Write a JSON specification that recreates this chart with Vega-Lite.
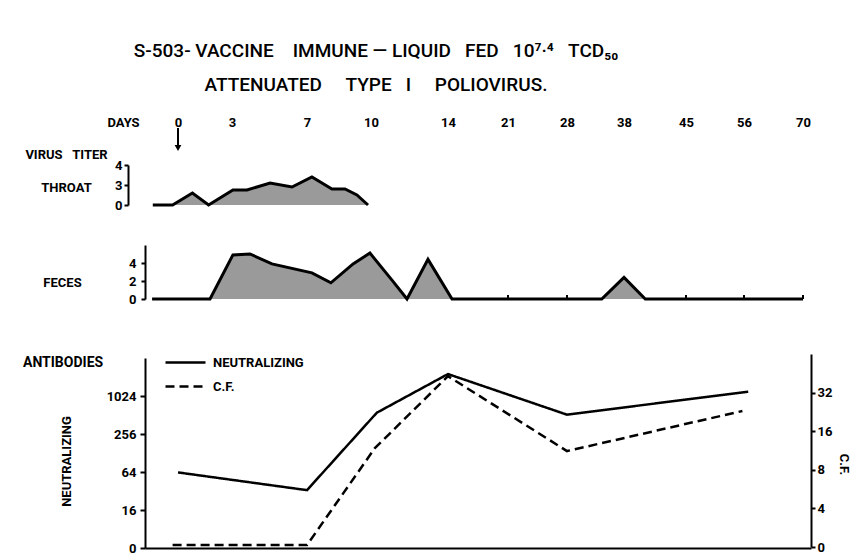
{
  "$schema": "https://vega.github.io/schema/vega-lite/v6.json",
  "width": 666,
  "height": 548,
  "autosize": {"type": "none"},
  "padding": {"left": 145, "right": 41, "top": 0, "bottom": 6},
  "background": "white",
  "config": {
    "view": {"stroke": null},
    "font": "Roboto",
    "axis": {
      "grid": false,
      "domainColor": "black",
      "domainWidth": 2,
      "tickColor": "black",
      "tickWidth": 2,
      "tickSize": 5,
      "labelFont": "Roboto",
      "labelFontWeight": "bold",
      "labelFontSize": 13,
      "labelColor": "black",
      "titleFont": "Roboto",
      "titleFontWeight": "bold",
      "titleFontSize": 13,
      "titleColor": "black",
      "labelPadding": 3
    }
  },
  "title": {
    "text": [
      "S-503-\u00a0VACCINE\u00a0\u00a0\u00a0\u00a0IMMUNE\u00a0\u2014\u00a0LIQUID\u00a0\u00a0\u00a0FED\u00a0\u00a0\u00a010\u2077\u00b7\u2074\u00a0\u00a0\u00a0TCD\u2085\u2080",
      "\u00a0\u00a0\u00a0\u00a0\u00a0\u00a0\u00a0ATTENUATED\u00a0\u00a0\u00a0\u00a0\u00a0TYPE\u00a0\u00a0\u00a0I\u00a0\u00a0\u00a0\u00a0\u00a0POLIOVIRUS."
    ],
    "anchor": "middle",
    "frame": "group",
    "dx": -102,
    "dy": 95,
    "offset": 0,
    "font": "Roboto",
    "fontSize": 19,
    "fontWeight": 500,
    "color": "black",
    "lineHeight": 34
  },
  "datasets": {
    "throat": [
      {"day": -1.4, "titer": 0},
      {"day": -0.3, "titer": 0},
      {"day": 0.8, "titer": 1.8},
      {"day": 1.7, "titer": 0},
      {"day": 3.05, "titer": 2.25},
      {"day": 3.8, "titer": 2.25},
      {"day": 5.03, "titer": 3.1},
      {"day": 6.2, "titer": 2.7},
      {"day": 7.23, "titer": 3.4},
      {"day": 8.17, "titer": 2.4},
      {"day": 8.78, "titer": 2.4},
      {"day": 9.34, "titer": 1.5},
      {"day": 9.86, "titer": 0}
    ],
    "feces": [
      {"day": -1.44, "titer": 0},
      {"day": 1.78, "titer": 0},
      {"day": 3.05, "titer": 4.9},
      {"day": 3.96, "titer": 5.0},
      {"day": 5.13, "titer": 3.9},
      {"day": 7.23, "titer": 2.9},
      {"day": 8.12, "titer": 1.8},
      {"day": 9.16, "titer": 3.9},
      {"day": 9.95, "titer": 5.1},
      {"day": 11.09, "titer": 2.1},
      {"day": 11.87, "titer": 0},
      {"day": 12.96, "titer": 4.4},
      {"day": 14.47, "titer": 0},
      {"day": 34.1, "titer": 0},
      {"day": 38, "titer": 2.4},
      {"day": 40.4, "titer": 0},
      {"day": 70, "titer": 0}
    ],
    "fecesTicks": [
      {"day": 21}, {"day": 28}, {"day": 45}, {"day": 56}, {"day": 70}
    ],
    "arrow": [
      {"day": 0, "top": 1, "tip": 0}
    ],
    "neutralizing": [
      {"day": 0, "titer": 63},
      {"day": 7, "titer": 33},
      {"day": 10.3, "titer": 556},
      {"day": 14, "titer": 2280},
      {"day": 28, "titer": 518},
      {"day": 57, "titer": 1200}
    ],
    "cf": [
      {"day": -0.3, "titer": 2.07},
      {"day": 7, "titer": 2.07},
      {"day": 10.2, "titer": 11.8},
      {"day": 14, "titer": 43},
      {"day": 28, "titer": 11.2},
      {"day": 55.7, "titer": 23}
    ]
  },
  "layer": [
    {
      "data": {"name": "throat"},
      "mark": {"type": "area", "fill": "#9a9a9a", "interpolate": "linear"},
      "encoding": {
        "x": {
          "field": "day", "type": "quantitative",
          "scale": {"domain": [-1.833, 0, 3, 7, 10, 14, 21, 28, 38, 45, 56, 70, 71.9], "range": [0, 33, 87, 162, 226, 303, 363, 422, 479, 541, 599, 658, 666]},
          "axis": {
            "orient": "top", "values": [0, 3, 7, 10, 14, 21, 28, 38, 45, 56, 70],
            "offset": -128, "domain": false, "ticks": false, "tickSize": 0,
            "labelPadding": 6, "labelBaseline": "middle", "labelFlush": false, "labelOverlap": false,
            "title": "DAYS", "titleX": -22, "titleY": -6, "titleBaseline": "middle", "titleAlign": "center"
          }
        },
        "y": {
          "field": "titer", "type": "quantitative",
          "scale": {"domain": [0, 3, 4], "range": [205, 185, 165]},
          "axis": {
            "orient": "left", "offset": 17, "values": [0, 3, 4], "tickSize": 4, "labelPadding": 2,
            "title": ["VIRUS\u00a0\u00a0\u00a0TITER", "THROAT"],
            "titleAngle": 0, "titleX": -62, "titleY": 158, "titleAlign": "center",
            "titleBaseline": "alphabetic", "titleLineHeight": 33
          }
        }
      }
    },
    {
      "data": {"name": "throat"},
      "mark": {"type": "line", "color": "black", "strokeWidth": 3, "strokeJoin": "miter"},
      "encoding": {
        "x": {"field": "day", "type": "quantitative",
          "scale": {"domain": [-1.833, 0, 3, 7, 10, 14, 21, 28, 38, 45, 56, 70, 71.9], "range": [0, 33, 87, 162, 226, 303, 363, 422, 479, 541, 599, 658, 666]},
          "axis": null},
        "y": {"field": "titer", "type": "quantitative",
          "scale": {"domain": [0, 3, 4], "range": [205, 185, 165]}, "axis": null}
      }
    },
    {
      "data": {"name": "arrow"},
      "mark": {"type": "rule", "color": "black", "strokeWidth": 2},
      "encoding": {
        "x": {"field": "day", "type": "quantitative",
          "scale": {"domain": [-1.833, 0, 3, 7, 10, 14, 21, 28, 38, 45, 56, 70, 71.9], "range": [0, 33, 87, 162, 226, 303, 363, 422, 479, 541, 599, 658, 666]},
          "axis": null},
        "y": {"field": "top", "type": "quantitative", "scale": {"domain": [0, 1], "range": [146, 128]}, "axis": null},
        "y2": {"field": "tip"}
      }
    },
    {
      "data": {"name": "arrow"},
      "mark": {"type": "point", "shape": "triangle-down", "filled": true, "color": "black", "size": 45, "opacity": 1},
      "encoding": {
        "x": {"field": "day", "type": "quantitative",
          "scale": {"domain": [-1.833, 0, 3, 7, 10, 14, 21, 28, 38, 45, 56, 70, 71.9], "range": [0, 33, 87, 162, 226, 303, 363, 422, 479, 541, 599, 658, 666]},
          "axis": null},
        "y": {"field": "tip", "type": "quantitative", "scale": {"domain": [0, 1], "range": [148, 126]}, "axis": null}
      }
    },
    {
      "data": {"name": "feces"},
      "mark": {"type": "area", "fill": "#9a9a9a", "interpolate": "linear"},
      "encoding": {
        "x": {"field": "day", "type": "quantitative",
          "scale": {"domain": [-1.833, 0, 3, 7, 10, 14, 21, 28, 38, 45, 56, 70, 71.9], "range": [0, 33, 87, 162, 226, 303, 363, 422, 479, 541, 599, 658, 666]},
          "axis": null},
        "y": {
          "field": "titer", "type": "quantitative",
          "scale": {"domain": [0, 6], "range": [299, 245]},
          "axis": {
            "orient": "left", "values": [0, 2, 4], "tickSize": 4, "labelPadding": 5,
            "title": "FECES", "titleAngle": 0, "titleX": -83, "titleY": 286,
            "titleAlign": "center", "titleBaseline": "alphabetic"
          }
        }
      }
    },
    {
      "data": {"name": "feces"},
      "mark": {"type": "line", "color": "black", "strokeWidth": 3, "strokeJoin": "miter"},
      "encoding": {
        "x": {"field": "day", "type": "quantitative",
          "scale": {"domain": [-1.833, 0, 3, 7, 10, 14, 21, 28, 38, 45, 56, 70, 71.9], "range": [0, 33, 87, 162, 226, 303, 363, 422, 479, 541, 599, 658, 666]},
          "axis": null},
        "y": {"field": "titer", "type": "quantitative",
          "scale": {"domain": [0, 6], "range": [299, 245]}, "axis": null}
      }
    },
    {
      "data": {"name": "fecesTicks"},
      "mark": {"type": "rule", "color": "black", "strokeWidth": 2},
      "encoding": {
        "x": {"field": "day", "type": "quantitative",
          "scale": {"domain": [-1.833, 0, 3, 7, 10, 14, 21, 28, 38, 45, 56, 70, 71.9], "range": [0, 33, 87, 162, 226, 303, 363, 422, 479, 541, 599, 658, 666]},
          "axis": null},
        "y": {"datum": 0, "type": "quantitative", "scale": {"domain": [0, 6], "range": [299, 245]}, "axis": null},
        "y2": {"datum": 0.45}
      }
    },
    {
      "data": {"name": "neutralizing"},
      "mark": {"type": "line", "color": "black", "strokeWidth": 2.5},
      "encoding": {
        "x": {"field": "day", "type": "quantitative",
          "scale": {"domain": [-1.833, 0, 3, 7, 10, 14, 21, 28, 38, 45, 56, 70, 71.9], "range": [0, 33, 87, 162, 226, 303, 363, 422, 479, 541, 599, 658, 666]},
          "axis": {"orient": "bottom", "labels": false, "ticks": false, "title": null, "domain": true, "domainWidth": 2}},
        "y": {
          "field": "titer", "type": "quantitative",
          "scale": {"type": "log", "base": 4, "domain": [4, 4096], "range": [548, 358]},
          "axis": {
            "orient": "left", "values": [4, 16, 64, 256, 1024], "format": "d",
            "labelExpr": "datum.value <= 4 ? '0' : datum.label",
            "tickSize": 5, "labelPadding": 4,
            "title": "NEUTRALIZING", "titleAngle": -90, "titleX": -79, "titleY": 461,
            "titleAlign": "center", "titleBaseline": "middle"
          }
        },
        "strokeDash": {
          "datum": "NEUTRALIZING", "type": "nominal",
          "scale": {"domain": ["NEUTRALIZING", "C.F."], "range": [[1, 0], [9, 5]]},
          "legend": {
            "orient": "none", "legendX": -122, "legendY": 356,
            "symbolType": "M-5,0H5", "symbolSize": 64, "symbolStrokeWidth": 2.5,
            "symbolStrokeColor": "black",
            "labelFont": "Roboto", "labelFontWeight": "bold", "labelFontSize": 13,
            "labelColor": "black", "labelOffset": 21, "rowPadding": 10,
            "title": "ANTIBODIES", "titleOrient": "left", "titlePadding": 75,
            "titleFont": "Roboto", "titleFontWeight": "bold", "titleFontSize": 14,
            "titleColor": "black", "titleAnchor": "start", "titleBaseline": "top"
          }
        }
      }
    },
    {
      "data": {"name": "cf"},
      "mark": {"type": "line", "color": "black", "strokeWidth": 2.5},
      "encoding": {
        "x": {"field": "day", "type": "quantitative",
          "scale": {"domain": [-1.833, 0, 3, 7, 10, 14, 21, 28, 38, 45, 56, 70, 71.9], "range": [0, 33, 87, 162, 226, 303, 363, 422, 479, 541, 599, 658, 666]},
          "axis": null},
        "y": {
          "field": "titer", "type": "quantitative",
          "scale": {"type": "log", "base": 2, "domain": [2, 64], "range": [547, 354]},
          "axis": {
            "orient": "right", "values": [2, 4, 8, 16, 32], "format": "d",
            "labelExpr": "datum.value <= 2 ? '0' : datum.label",
            "tickSize": 4, "labelPadding": 2,
            "title": "C.F.", "titleAngle": 90, "titleX": 32, "titleY": 464,
            "titleAlign": "center", "titleBaseline": "middle"
          }
        },
        "strokeDash": {"datum": "C.F.", "type": "nominal"}
      }
    }
  ],
  "resolve": {
    "scale": {"y": "independent"},
    "axis": {"x": "independent", "y": "independent"}
  }
}
